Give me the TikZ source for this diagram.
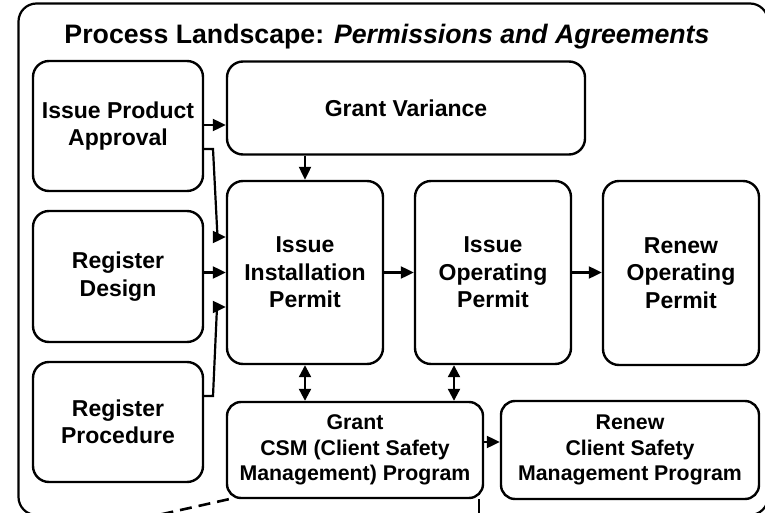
\documentclass[tikz,border=0pt]{standalone}
\usepackage{fontspec}
\setmainfont{Liberation Sans}
\usetikzlibrary{arrows.meta}
\begin{document}
\begin{tikzpicture}[x=1pt,y=-1pt,
  box/.style={draw, line width=2.4pt, rounded corners=16pt, align=center, inner sep=0pt,
    font=\fontsize{23}{27.5}\selectfont\bfseries},
  lowbox/.style={box, rounded corners=14pt, font=\fontsize{21.3}{25.5}\selectfont\bfseries},
  conn/.style={line width=2.2pt, -{Triangle[length=13pt,width=12pt]}},
  dconn/.style={line width=2.2pt, {Triangle[length=12pt,width=12pt]}-{Triangle[length=12pt,width=12pt]}},
  dashln/.style={line width=2.6pt, dash pattern=on 12pt off 7pt},
  plainln/.style={line width=2.4pt},
  frame/.style={draw, line width=2.2pt, rounded corners=18pt}]
\useasboundingbox (0,0) rectangle (765,513);
\clip (0,0) rectangle (765,513);
% outer frame
\draw[frame] (18.5,3.5) rectangle (768,515);
% title
\node[font=\fontsize{26.7}{30}\selectfont\bfseries] (title) at (387,37)
  {Process Landscape: \textit{Permissions and Agreements}};
% boxes
\node[box, minimum width=170pt, minimum height=130pt] (pa) at (118,126) {Issue Product\\Approval};
\node[box, minimum width=170pt, minimum height=131pt] (rd) at (118,276.5) {Register\\Design};
\node[box, minimum width=170pt, minimum height=120pt] (rp) at (118,422) {Register\\Procedure};
\node[box, minimum width=358pt, minimum height=93pt] (gv) at (406,108) {Grant Variance};
\node[box, minimum width=156pt, minimum height=183pt] (inst) at (305,272.5) {Issue\\Installation\\Permit};
\node[box, minimum width=156pt, minimum height=183pt] (op) at (493,272.5) {Issue\\Operating\\Permit};
\node[box, minimum width=156pt, minimum height=184pt] (ro) at (681,273) {Renew\\Operating\\Permit};
\node[lowbox, minimum width=256pt, minimum height=96pt] (csm) at (355,450) {Grant\\CSM (Client Safety\\Management) Program};
\node[lowbox, minimum width=258pt, minimum height=98pt] (rcsm) at (630,450) {Renew\\Client Safety\\Management Program};
% bend points and free ends
\coordinate (b1) at (213,149);
\coordinate (b2) at (217.5,237);
\coordinate (c1) at (213,396);
\coordinate (c2) at (217,307);
\coordinate (x2) at (454,0);
\coordinate (ya) at (0,442);
\coordinate (yb) at (0,125);
\coordinate (d1) at (100,528);
\coordinate (v1) at (479,520);
% connectors
\draw[conn] (pa.east |- yb) -- (gv.west |- yb);
\draw[conn] (pa.east |- b1) -- (b1) -- (b2) -- (inst.west |- b2);
\draw[conn] (rd.east |- inst.west) -- (inst.west);
\draw[conn] (rp.east |- c1) -- (c1) -- (c2) -- (inst.west |- c2);
\draw[conn] (gv.south -| inst.north) -- (inst.north);
\draw[conn] (inst.east) -- (op.west |- inst.east);
\draw[conn] (op.east) -- (ro.west |- op.east);
\draw[dconn] (inst.south) -- (inst.south |- csm.north);
\draw[dconn] (op.south -| x2) -- (csm.north -| x2);
\draw[conn] (csm.east |- ya) -- (rcsm.west |- ya);
\draw[dashln] ([xshift=3pt]csm.south west) -- (d1);
\draw[plainln] (v1 |- csm.south) -- (v1);
\end{tikzpicture}
\end{document}
